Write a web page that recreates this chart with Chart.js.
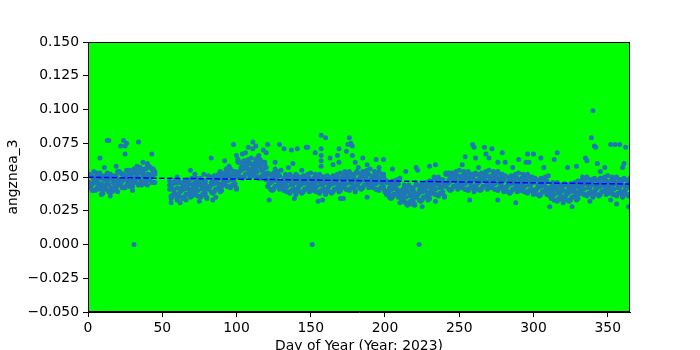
<!DOCTYPE html>
<html>
<head>
<meta charset="utf-8">
<script src="https://cdn.jsdelivr.net/npm/chart.js@4"></script>
<style>
html,body{margin:0;padding:0;background:#fff;}
#wrap{width:700px;height:350px;position:relative;}
</style>
</head>
<body>
<div id="wrap"><canvas id="c"></canvas></div>
<script>
// Day of year 1..365; three readings per day (null = no data)
const readingsA = [
0.046,0.043,0.050,0.040,0.048,0.053,0.045,0.041,0.049,0.038,
0.051,0.044,0.047,0.039,0.052,0.042,0.049,0.046,0.040,0.054,
0.048,0.045,0.052,0.042,0.050,0.055,0.047,0.043,0.051,0.040,
0.056,0.049,0.052,0.044,0.057,0.047,0.054,0.051,0.045,0.059,
0.052,0.049,0.056,0.046,0.054,null,null,null,null,null,
null,null,null,null,0.041,0.036,0.045,0.038,0.048,0.033,
0.046,0.039,0.042,0.034,0.047,0.037,0.044,0.041,0.035,0.049,
0.042,0.039,0.046,0.036,0.044,0.049,0.041,0.037,0.045,0.034,
0.050,0.043,0.046,0.038,0.051,0.041,0.048,0.045,0.039,0.053,
0.049,0.046,0.053,0.043,0.051,0.056,0.048,0.044,0.052,0.041,
0.061,0.054,0.057,0.049,0.062,0.052,0.059,0.056,0.050,0.064,
0.056,0.053,0.060,0.050,0.058,0.063,0.055,0.051,0.059,0.048,
0.052,0.045,0.048,0.040,0.053,0.043,0.050,0.047,0.041,0.055,
0.045,0.042,0.049,0.039,0.047,0.052,0.044,0.040,0.048,0.037,
0.050,0.043,0.046,0.038,0.051,0.041,0.048,0.045,0.039,0.053,
0.045,0.042,0.049,0.039,0.047,0.052,0.044,0.040,0.048,0.037,
0.050,0.043,0.046,0.038,0.051,0.041,0.048,0.045,0.039,0.053,
0.047,0.044,0.051,0.041,0.049,0.054,0.046,0.042,0.050,0.039,
0.053,0.046,0.049,0.041,0.054,0.044,0.051,0.048,0.042,0.056,
0.047,0.044,0.051,0.041,0.049,0.054,0.046,0.042,0.050,0.039,
0.046,0.039,0.042,0.034,0.047,0.037,0.044,0.041,0.035,0.049,
0.037,0.034,0.041,0.031,0.039,0.044,0.036,0.032,0.040,0.029,
0.044,0.037,0.040,0.032,0.045,0.035,0.042,0.039,0.033,0.047,
0.043,0.040,0.047,0.037,0.045,0.050,0.042,0.038,0.046,0.035,
0.052,0.045,0.048,0.040,0.053,0.043,0.050,0.047,0.041,0.055,
0.047,0.044,0.051,0.041,0.049,0.054,0.046,0.042,0.050,0.039,
0.052,0.045,0.048,0.040,0.053,0.043,0.050,0.047,0.041,0.055,
0.047,0.044,0.051,0.041,0.049,0.054,0.046,0.042,0.050,0.039,
0.050,0.043,0.046,0.038,0.051,0.041,0.048,0.045,0.039,0.053,
0.045,0.042,0.049,0.039,0.047,0.052,0.044,0.040,0.048,0.037,
0.048,0.041,0.044,0.036,0.049,0.039,0.046,0.043,0.037,0.051,
0.039,0.036,0.043,0.033,0.041,0.046,0.038,0.034,0.042,0.031,
0.044,0.037,0.040,0.032,0.045,0.035,0.042,0.039,0.033,0.047,
0.043,0.040,0.047,0.037,0.045,0.050,0.042,0.038,0.046,0.035,
0.048,0.041,0.044,0.036,0.049,0.039,0.046,0.043,0.037,0.051,
0.043,0.040,0.047,0.037,0.045,0.050,0.042,0.038,0.046,0.035,
0.048,0.041,0.044,0.036,0.049
];
const readingsB = [
0.042,0.051,0.045,0.048,0.040,0.047,0.052,0.043,0.050,0.044,
0.048,0.041,0.053,0.044,0.049,0.039,0.046,0.051,0.042,0.047,
0.044,0.053,0.047,0.050,0.042,0.049,0.054,0.045,0.052,0.046,
0.053,0.046,0.058,0.049,0.054,0.044,0.051,0.056,0.047,0.052,
0.048,0.057,0.051,0.054,0.046,null,null,null,null,null,
null,null,null,null,0.044,0.034,0.041,0.046,0.037,0.042,
0.037,0.046,0.040,0.043,0.035,0.042,0.047,0.038,0.045,0.039,
0.044,0.037,0.049,0.040,0.045,0.035,0.042,0.047,0.038,0.043,
0.041,0.050,0.044,0.047,0.039,0.046,0.051,0.042,0.049,0.043,
0.051,0.044,0.056,0.047,0.052,0.042,0.049,0.054,0.045,0.050,
0.052,0.061,0.055,0.058,0.050,0.057,0.062,0.053,0.060,0.054,
0.058,0.051,0.063,0.054,0.059,0.049,0.056,0.061,0.052,0.057,
0.043,0.052,0.046,0.049,0.041,0.048,0.053,0.044,0.051,0.045,
0.047,0.040,0.052,0.043,0.048,0.038,0.045,0.050,0.041,0.046,
0.041,0.050,0.044,0.047,0.039,0.046,0.051,0.042,0.049,0.043,
0.047,0.040,0.052,0.043,0.048,0.038,0.045,0.050,0.041,0.046,
0.041,0.050,0.044,0.047,0.039,0.046,0.051,0.042,0.049,0.043,
0.049,0.042,0.054,0.045,0.050,0.040,0.047,0.052,0.043,0.048,
0.044,0.053,0.047,0.050,0.042,0.049,0.054,0.045,0.052,0.046,
0.049,0.042,0.054,0.045,0.050,0.040,0.047,0.052,0.043,0.048,
0.037,0.046,0.040,0.043,0.035,0.042,0.047,0.038,0.045,0.039,
0.039,0.032,0.044,0.035,0.040,0.030,0.037,0.042,0.033,0.038,
0.035,0.044,0.038,0.041,0.033,0.040,0.045,0.036,0.043,0.037,
0.045,0.038,0.050,0.041,0.046,0.036,0.043,0.048,0.039,0.044,
0.043,0.052,0.046,0.049,0.041,0.048,0.053,0.044,0.051,0.045,
0.049,0.042,0.054,0.045,0.050,0.040,0.047,0.052,0.043,0.048,
0.043,0.052,0.046,0.049,0.041,0.048,0.053,0.044,0.051,0.045,
0.049,0.042,0.054,0.045,0.050,0.040,0.047,0.052,0.043,0.048,
0.041,0.050,0.044,0.047,0.039,0.046,0.051,0.042,0.049,0.043,
0.047,0.040,0.052,0.043,0.048,0.038,0.045,0.050,0.041,0.046,
0.039,0.048,0.042,0.045,0.037,0.044,0.049,0.040,0.047,0.041,
0.041,0.034,0.046,0.037,0.042,0.032,0.039,0.044,0.035,0.040,
0.035,0.044,0.038,0.041,0.033,0.040,0.045,0.036,0.043,0.037,
0.045,0.038,0.050,0.041,0.046,0.036,0.043,0.048,0.039,0.044,
0.039,0.048,0.042,0.045,0.037,0.044,0.049,0.040,0.047,0.041,
0.045,0.038,0.050,0.041,0.046,0.036,0.043,0.048,0.039,0.044,
0.039,0.048,0.042,0.045,0.037
];
const readingsC = [
0.052,0.044,0.040,0.050,0.046,0.042,0.049,0.053,0.045,0.041,
0.043,0.050,0.047,0.040,0.052,0.048,0.041,0.045,0.051,0.039,
0.054,0.046,0.042,0.052,0.048,0.044,0.051,0.055,0.047,0.043,
0.048,0.055,0.052,0.045,0.057,0.053,0.046,0.050,0.056,0.044,
0.058,0.050,0.046,0.056,0.052,null,null,null,null,null,
null,null,null,null,0.047,0.043,0.036,0.040,0.046,0.034,
0.047,0.039,0.035,0.045,0.041,0.037,0.044,0.048,0.040,0.036,
0.039,0.046,0.043,0.036,0.048,0.044,0.037,0.041,0.047,0.035,
0.051,0.043,0.039,0.049,0.045,0.041,0.048,0.052,0.044,0.040,
0.046,0.053,0.050,0.043,0.055,0.051,0.044,0.048,0.054,0.042,
0.062,0.054,0.050,0.060,0.056,0.052,0.059,0.063,0.055,0.051,
0.053,0.060,0.057,0.050,0.062,0.058,0.051,0.055,0.061,0.049,
0.053,0.045,0.041,0.051,0.047,0.043,0.050,0.054,0.046,0.042,
0.042,0.049,0.046,0.039,0.051,0.047,0.040,0.044,0.050,0.038,
0.051,0.043,0.039,0.049,0.045,0.041,0.048,0.052,0.044,0.040,
0.042,0.049,0.046,0.039,0.051,0.047,0.040,0.044,0.050,0.038,
0.051,0.043,0.039,0.049,0.045,0.041,0.048,0.052,0.044,0.040,
0.044,0.051,0.048,0.041,0.053,0.049,0.042,0.046,0.052,0.040,
0.054,0.046,0.042,0.052,0.048,0.044,0.051,0.055,0.047,0.043,
0.044,0.051,0.048,0.041,0.053,0.049,0.042,0.046,0.052,0.040,
0.047,0.039,0.035,0.045,0.041,0.037,0.044,0.048,0.040,0.036,
0.034,0.041,0.038,0.031,0.043,0.039,0.032,0.036,0.042,0.030,
0.045,0.037,0.033,0.043,0.039,0.035,0.042,0.046,0.038,0.034,
0.040,0.047,0.044,0.037,0.049,0.045,0.038,0.042,0.048,0.036,
0.053,0.045,0.041,0.051,0.047,0.043,0.050,0.054,0.046,0.042,
0.044,0.051,0.048,0.041,0.053,0.049,0.042,0.046,0.052,0.040,
0.053,0.045,0.041,0.051,0.047,0.043,0.050,0.054,0.046,0.042,
0.044,0.051,0.048,0.041,0.053,0.049,0.042,0.046,0.052,0.040,
0.051,0.043,0.039,0.049,0.045,0.041,0.048,0.052,0.044,0.040,
0.042,0.049,0.046,0.039,0.051,0.047,0.040,0.044,0.050,0.038,
0.049,0.041,0.037,0.047,0.043,0.039,0.046,0.050,0.042,0.038,
0.036,0.043,0.040,0.033,0.045,0.041,0.034,0.038,0.044,0.032,
0.045,0.037,0.033,0.043,0.039,0.035,0.042,0.046,0.038,0.034,
0.040,0.047,0.044,0.037,0.049,0.045,0.038,0.042,0.048,0.036,
0.049,0.041,0.037,0.047,0.043,0.039,0.046,0.050,0.042,0.038,
0.040,0.047,0.044,0.037,0.049,0.045,0.038,0.042,0.048,0.036,
0.049,0.041,0.037,0.047,0.043
];
// Scattered readings off the main band (day, value)
const extraDays = [
8,13,14,22,24,25,26,25,34,43,4,11,9,31,19,37,40,15,
56,56,56,64,66,69,75,78,60,72,62,
83,84,86,89,92,95,98,100,101,104,106,108,108,109,111,111,113,114,115,118,120,121,122,126,126,
129,132,137,138,141,144,147,140,139,135,
151,148,153,155,157,157,157,157,157,158,160,163,165,168,169,169,170,174,175,176,177,178,178,180,172,
182,185,188,188,194,196,199,203,205,210,214,218,215,221,223,
222,225,230,234,234,243,252,254,257,259,260,261,263,267,268,270,272,276,276,279,281,286,288,290,295,
296,297,300,305,307,311,314,316,323,326,329,335,336,338,339,340,341,342,343,345,
352,352,355,358,360,361,362,364,348,356];
const extraValues = [
0.064,0.077,0.077,0.073,0.077,0.073,0.075,0.067,0.076,0.067,0.054,0.057,0.037,0.000,0.058,0.061,0.060,0.036,
0.036,0.046,0.031,0.034,0.033,0.055,0.032,0.052,0.050,0.052,0.031,
0.064,0.033,0.035,0.054,0.062,0.058,0.074,0.066,0.063,0.067,0.068,0.072,0.062,0.060,0.076,0.071,0.073,0.064,0.066,0.070,0.068,0.074,0.033,0.061,0.056,
0.074,0.071,0.070,0.060,0.071,0.055,0.072,0.052,0.034,0.057,
0.000,0.072,0.068,0.032,0.081,0.071,0.066,0.062,0.058,0.033,0.079,0.064,0.059,0.066,0.071,0.061,0.034,0.069,0.074,0.079,0.075,0.073,0.066,0.061,0.034,
0.057,0.064,0.059,0.035,0.063,0.057,0.063,0.037,0.056,0.031,0.054,0.030,0.029,0.057,0.000,
0.055,0.028,0.058,0.059,0.032,0.053,0.059,0.065,0.033,0.074,0.072,0.064,0.057,0.072,0.067,0.064,0.071,0.061,0.033,0.068,0.061,0.057,0.031,0.063,0.061,
0.067,0.061,0.067,0.064,0.057,0.028,0.063,0.068,0.057,0.028,0.058,0.064,0.062,0.032,0.079,0.099,0.073,0.072,0.060,0.054,
0.074,0.033,0.074,0.074,0.057,0.060,0.072,0.028,0.057,0.030];
// Linear trend endpoints
const trendDays = [0, 365];
const trendValues = [0.0498, 0.0448];
// Axis ticks
const xTickValues = [0, 50, 100, 150, 200, 250, 300, 350];
const yTickValues = [-0.05, -0.025, 0, 0.025, 0.05, 0.075, 0.1, 0.125, 0.15];

const pts = [];
[readingsA, readingsB, readingsC].forEach(arr => {
  arr.forEach((v, i) => { if (v !== null) pts.push({x: i + 1, y: v}); });
});
extraDays.forEach((d, i) => pts.push({x: d, y: extraValues[i]}));
const trend = trendDays.map((d, i) => ({x: d, y: trendValues[i]}));

Chart.defaults.font.family = "'DejaVu Sans', sans-serif";
Chart.defaults.font.size = 13.9;
Chart.defaults.color = '#000';

const frame = {
  id: 'frame',
  beforeDatasetsDraw(chart) {
    const {ctx, chartArea: a} = chart;
    ctx.save();
    ctx.fillStyle = '#00ff00';
    ctx.fillRect(a.left, a.top, a.right - a.left, a.bottom - a.top);
    ctx.restore();
  },
  afterDraw(chart) {
    const {ctx, chartArea: a} = chart;
    ctx.save();
    ctx.strokeStyle = '#000';
    ctx.lineWidth = 1;
    ctx.strokeRect(Math.round(a.left) + 0.5, Math.round(a.top) + 0.5, Math.round(a.right - a.left) - 1, Math.round(a.bottom - a.top) - 1);
    ctx.restore();
  }
};

new Chart(document.getElementById('c'), {
  type: 'scatter',
  data: {
    datasets: [
      {
        label: 'trend', data: trend, showLine: true, borderColor: '#0000ff',
        borderWidth: 1.5, borderDash: [5.5, 2.4], pointRadius: 0, fill: false, order: 0
      },
      {
        label: 'angznea_3', data: pts, backgroundColor: '#1f77b4', borderWidth: 0,
        pointRadius: 2.5, pointHoverRadius: 2.5, order: 1
      }
    ]
  },
  options: {
    responsive: true, maintainAspectRatio: false, animation: false,
    layout: {padding: {left: 0, right: 70, top: 42, bottom: 0}},
    plugins: {legend: {display: false}, tooltip: {enabled: false}},
    scales: {
      x: {
        type: 'linear', min: 0, max: 365,
        afterFit(s) { s.height = 38; },
        afterBuildTicks(s) { s.ticks = xTickValues.map(v => ({value: v})); },
        grid: {display: true, drawOnChartArea: false, tickLength: 5, tickColor: '#000'},
        border: {display: true, color: '#000'},
        ticks: {padding: 3, maxRotation: 0, callback: v => String(v)},
        title: {display: true, text: 'Day of Year (Year: 2023)', padding: {top: 0, bottom: -5}}
      },
      y: {
        type: 'linear', min: -0.05, max: 0.15,
        afterFit(s) { s.width = 88; },
        afterBuildTicks(s) { s.ticks = yTickValues.map(v => ({value: v})); },
        grid: {display: true, drawOnChartArea: false, tickLength: 5, tickColor: '#000'},
        border: {display: true, color: '#000'},
        ticks: {padding: 4, callback: v => v.toFixed(3).replace('-', '\u2212')},
        title: {display: true, text: 'angznea_3', padding: {top: 5.5, bottom: 0}}
      }
    }
  },
  plugins: [frame]
});
</script>
</body>
</html>
